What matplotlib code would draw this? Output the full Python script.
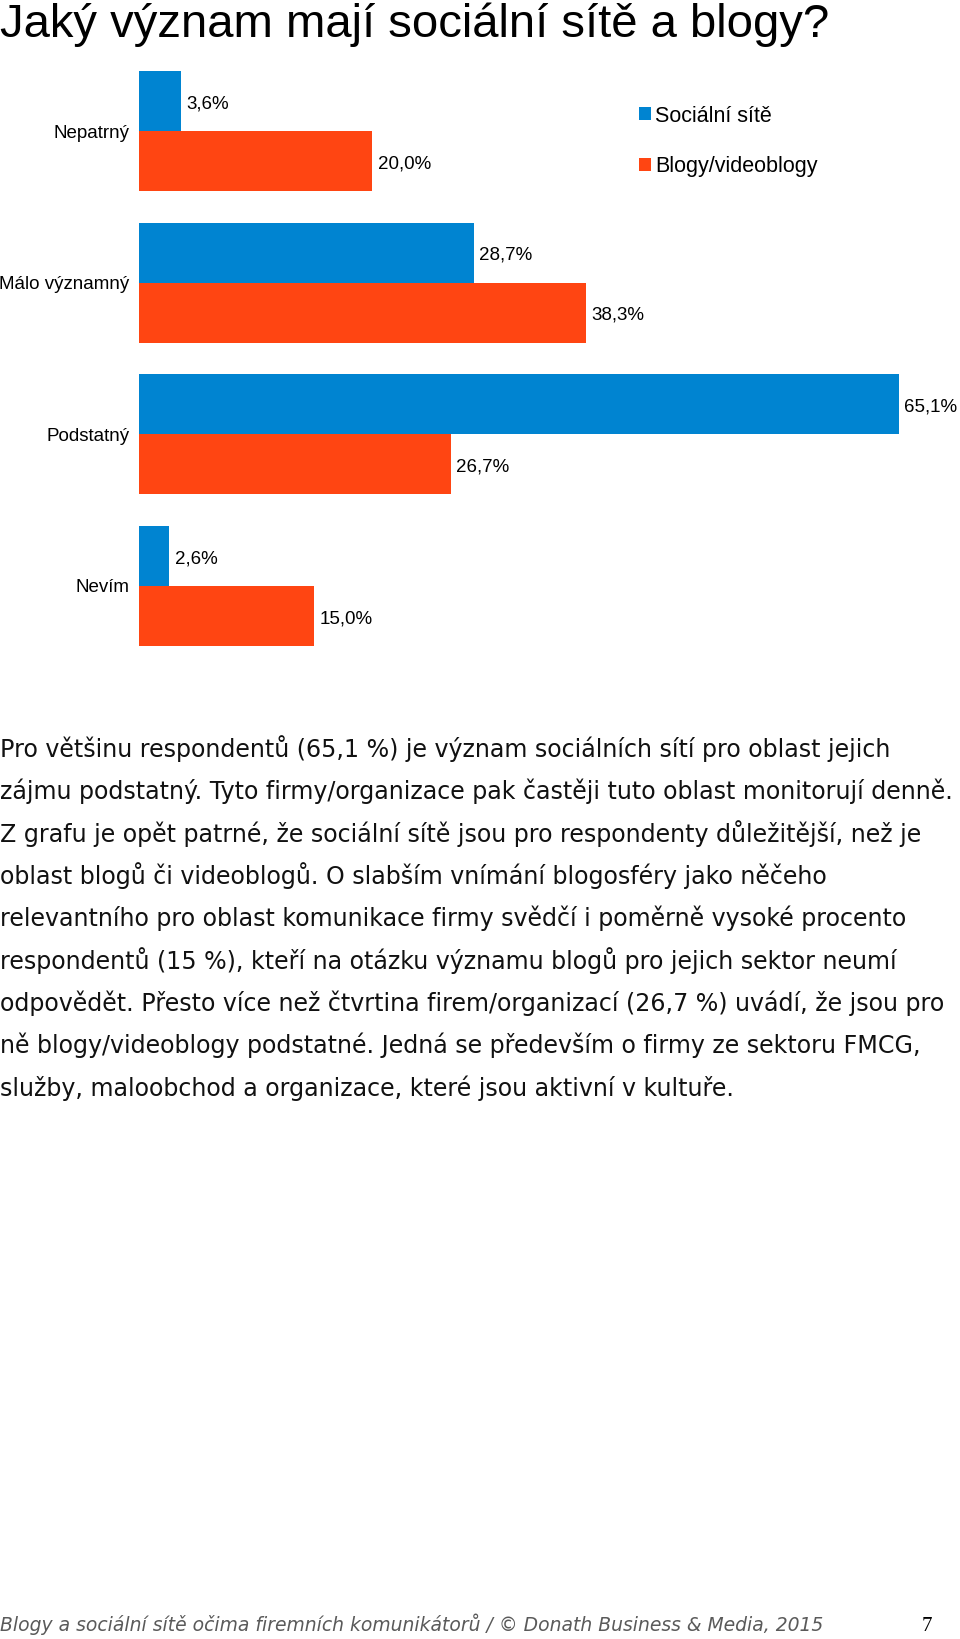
import numpy as np
import matplotlib
matplotlib.use('Agg')
import matplotlib.pyplot as plt

# data
kategorie = ['Nepatrný', 'Málo významný', 'Podstatný', 'Nevím']
socialni_site = [3.6, 28.7, 65.1, 2.6]
blogy = [20.0, 38.3, 26.7, 15.0]
serie = ['Sociální sítě', 'Blogy/videoblogy']
barvy = ['#0084D1', '#FF4512']

titulek = 'Jaký význam mají sociální sítě a blogy?'
odstavec = [
    'Pro většinu respondentů (65,1 %) je význam sociálních sítí pro oblast jejich',
    'zájmu podstatný. Tyto firmy/organizace pak častěji tuto oblast monitorují denně.',
    'Z grafu je opět patrné, že sociální sítě jsou pro respondenty důležitější, než je',
    'oblast blogů či videoblogů. O slabším vnímání blogosféry jako něčeho',
    'relevantního pro oblast komunikace firmy svědčí i poměrně vysoké procento',
    'respondentů (15 %), kteří na otázku významu blogů pro jejich sektor neumí',
    'odpovědět. Přesto více než čtvrtina firem/organizací (26,7 %) uvádí, že jsou pro',
    'ně blogy/videoblogy podstatné. Jedná se především o firmy ze sektoru FMCG,',
    'služby, maloobchod a organizace, které jsou aktivní v kultuře.',
]
paticka = 'Blogy a sociální sítě očima firemních komunikátorů / © Donath Business & Media, 2015'
cislo_strany = '7'

W, H = 960, 1639
fig = plt.figure(figsize=(W / 100, H / 100), dpi=100)

def fy(px):
    return 1 - px / H

# nadpis
fig.text(0, fy(37), titulek, fontsize=34, family='Liberation Sans',
         va='baseline', ha='left')

# graf - umisteni v pixelech
left, top, bottom = 139, 71, 646
ax = fig.add_axes([left / W, fy(bottom), (W - left) / W, (bottom - top) / H])
px_per_pct = 11.67
ax.set_xlim(0, (W - left) / px_per_pct)
vyska = 0.396
ax.set_ylim(3 + vyska, -vyska)

y = np.arange(len(kategorie))
b1 = ax.barh(y - vyska / 2, socialni_site, height=vyska, color=barvy[0], label=serie[0])
b2 = ax.barh(y + vyska / 2, blogy, height=vyska, color=barvy[1], label=serie[1])

for bars, vals in [(b1, socialni_site), (b2, blogy)]:
    for r, v in zip(bars, vals):
        ax.annotate(f'{v:.1f}%'.replace('.', ','),
                    (r.get_width(), r.get_y() + r.get_height() / 2),
                    xytext=(4, -2), textcoords='offset points',
                    va='center', ha='left', fontsize=13.5, family='Liberation Sans')

ax.set_yticks(y)
ax.set_yticklabels(kategorie, fontsize=13.5, family='Liberation Sans')
ax.tick_params(axis='y', length=0, pad=7)
ax.set_xticks([])
for s in ax.spines.values():
    s.set_visible(False)

ax.legend(loc='upper left',
          bbox_to_anchor=((639 - left) / (W - left), 1 - (105.5 - top) / (bottom - top)),
          bbox_transform=ax.transAxes, frameon=False, handlelength=0.55, handleheight=0.55,
          handletextpad=0.2, labelspacing=1.36, borderpad=0, borderaxespad=0,
          prop={'family': 'Liberation Sans', 'size': 15.5})

# text pod grafem
for i, radek in enumerate(odstavec):
    fig.text(0, fy(757 + i * 42.35), radek, fontsize=17.1, family='DejaVu Sans',
             va='baseline', ha='left', color='#111111')

# paticka
fig.text(0, fy(1631), paticka, fontsize=13.5, family='DejaVu Sans', style='italic',
         color='#5a5a5a', va='baseline', ha='left')
fig.text(922 / W, fy(1631), cislo_strany, fontsize=15, family='Liberation Serif',
         va='baseline', ha='left')

fig.savefig('out.png', dpi=100)
